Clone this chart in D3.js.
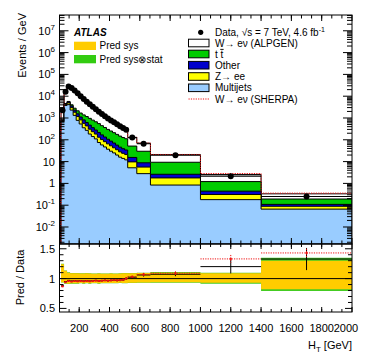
<!DOCTYPE html>
<html>
<head>
<meta charset="utf-8">
<script src="https://cdn.jsdelivr.net/npm/d3@7"></script>
<style>
    body { margin: 0; background: #fff; }
    text { font-family: "Liberation Sans", Arial, Helvetica, sans-serif; fill: #000; }
</style>
</head>
<body>
<script>

// Bin edges in HT [GeV]: 20 GeV bins up to 520, then wider ones
const binEdges = [80, 100, 120, 140, 160, 180, 200, 220, 240, 260, 280, 300, 320, 340, 360,
    380, 400, 420, 440, 460, 480, 500, 520, 580, 670, 1000, 1400, 2000];

// Events / GeV
const dataValues = [2240, 15850, 28180, 23990, 18200, 13490, 10000, 7410, 5620, 4270, 3240, 2510, 1950, 1510,
    1200, 955, 776, 631, 513, 417, 347, 288, 126, 66, 19.5, 2.14, 0.25];
const wenuAlpgen = [1179, 10470, 21595, 18999, 14753, 10812, 7960, 5727, 4257, 3136, 2329, 1765, 1320, 1012,
    797, 622, 500, 403, 321, 259, 213, 176, 77.5, 40.2, 11.6, 1.36, 0.14];
const ttbar = [4, 75, 273, 461, 527, 583, 579, 569, 542, 492, 438, 390, 337, 277,
    233, 194, 166, 141, 120, 102, 88, 78, 36, 21, 6.7, 0.77, 0.083];
const other = [39, 301, 547, 576, 439, 389, 290, 249, 190, 164, 125, 97, 84, 66,
    52, 41, 34, 28, 22, 18, 15, 13, 5.8, 3.2, 0.84, 0.13, 0.02];
const zee = [59, 452, 820, 691, 527, 389, 290, 213, 163, 123, 94, 73, 56, 44,
    35, 28, 23, 18, 15, 12, 10, 9, 4.5, 2.8, 0.94, 0.13, 0.023];
const multijets = [690, 3760, 4100, 2303, 1317, 777, 531, 356, 271, 184, 141, 110, 75, 58,
    47, 37, 30, 25, 20, 16, 14, 12, 5.2, 2.8, 0.84, 0.18, 0.066];

// Ratio panel
const sherpaRatio = [0.87, 0.94, 0.96, 0.95, 0.96, 0.955, 0.96, 0.955, 0.96, 0.955, 0.96, 0.965, 0.96, 0.965,
    0.97, 0.965, 0.97, 0.975, 0.97, 0.975, 0.98, 1.0, 1.03, 1.07, 1.09, 1.33, 1.43];
const sherpaStatError = [0.01, 0.004, 0.003, 0.003, 0.003, 0.004, 0.004, 0.005, 0.005, 0.006, 0.007, 0.008, 0.009, 0.01,
    0.011, 0.012, 0.014, 0.015, 0.017, 0.019, 0.02, 0.022, 0.02, 0.025, 0.03, 0.05, 0.05];
const dataStatError = [0.01, 0.004, 0.003, 0.003, 0.003, 0.004, 0.004, 0.005, 0.005, 0.006, 0.007, 0.008, 0.009, 0.01,
    0.011, 0.012, 0.014, 0.015, 0.017, 0.019, 0.02, 0.022, 0.02, 0.025, 0.03, 0.095, 0.14];
const sysUp = [1.24, 1.13, 1.1, 1.09, 1.09, 1.09, 1.085, 1.085, 1.09, 1.085, 1.08, 1.08, 1.085, 1.08,
    1.08, 1.08, 1.085, 1.08, 1.08, 1.085, 1.09, 1.09, 1.09, 1.095, 1.10, 1.09, 1.30];
const sysDown = [0.94, 0.92, 0.915, 0.92, 0.92, 0.92, 0.925, 0.92, 0.925, 0.92, 0.925, 0.925, 0.92, 0.925,
    0.925, 0.925, 0.925, 0.925, 0.925, 0.93, 0.925, 0.925, 0.93, 0.935, 0.94, 0.93, 0.82];
const totalUp = [1.25, 1.135, 1.105, 1.095, 1.095, 1.095, 1.09, 1.09, 1.095, 1.09, 1.085, 1.085, 1.09, 1.085,
    1.085, 1.085, 1.09, 1.085, 1.085, 1.09, 1.095, 1.095, 1.095, 1.10, 1.11, 1.10, 1.35];
const totalDown = [0.935, 0.915, 0.91, 0.915, 0.915, 0.915, 0.92, 0.915, 0.92, 0.915, 0.92, 0.92, 0.915, 0.92,
    0.92, 0.92, 0.92, 0.92, 0.92, 0.925, 0.92, 0.92, 0.925, 0.93, 0.93, 0.915, 0.79];

const xTicksMajor = [200, 400, 600, 800, 1000, 1200, 1400, 1600, 1800, 2000];
const ratioTicksMajor = [0.5, 1, 1.5];

// Layout
const width = 374, height = 359;
const topPanel = {left: 59.5, right: 352, top: 15, bottom: 244};
const ratioPanel = {left: 59.5, right: 352, top: 244, bottom: 312};

const x = d3.scaleLinear().domain([70, 2000]).range([topPanel.left, topPanel.right]);
const y = d3.scaleLog().domain([1.66e-3, 5.3e7]).range([topPanel.bottom, topPanel.top]);
const yRatio = d3.scaleLinear().domain([0.44, 1.58]).range([ratioPanel.bottom, ratioPanel.top]);

const svg = d3.select("body").append("svg")
    .attr("width", width)
    .attr("height", height);

const defs = svg.append("defs");
defs.append("clipPath").attr("id", "clipTop").append("rect")
    .attr("x", topPanel.left).attr("y", topPanel.top)
    .attr("width", topPanel.right - topPanel.left).attr("height", topPanel.bottom - topPanel.top);
defs.append("clipPath").attr("id", "clipRatio").append("rect")
    .attr("x", ratioPanel.left).attr("y", ratioPanel.top)
    .attr("width", ratioPanel.right - ratioPanel.left).attr("height", ratioPanel.bottom - ratioPanel.top);

// Step helpers
const stepPoints = values => values.flatMap((v, i) => [[binEdges[i], v], [binEdges[i + 1], v]]);
const centres = binEdges.slice(0, -1).map((lo, i) => (lo + binEdges[i + 1]) / 2);

// Cumulative stack, bottom layer first
const layers = [
    {name: "Multijets", values: multijets, colour: "#99ccff"},
    {name: "Zee", values: zee, colour: "#ffff00"},
    {name: "Other", values: other, colour: "#0000cc"},
    {name: "ttbar", values: ttbar, colour: "#00cc00"},
    {name: "Wenu", values: wenuAlpgen, colour: "#ffffff"}
];
let running = dataValues.map(() => 0);
layers.forEach(layer => {
    running = running.map((r, i) => r + layer.values[i]);
    layer.cumulative = running.slice();
});
const stackTotal = running;

const stackArea = d3.area()
    .x(p => x(p[0]))
    .y0(topPanel.bottom)
    .y1(p => y(p[1]));

const topPlot = svg.append("g").attr("clip-path", "url(#clipTop)");

// draw from the top of the stack down so that each layer covers the one above
layers.slice().reverse().forEach(layer => {
    topPlot.append("path")
        .attr("d", stackArea(stepPoints(layer.cumulative)))
        .attr("fill", layer.colour)
        .attr("stroke", "#000")
        .attr("stroke-width", 1);
});

// SHERPA prediction as a dotted red histogram
const sherpaValues = dataValues.map((d, i) => d * sherpaRatio[i]);
const stepLine = d3.line().x(p => x(p[0])).y(p => y(p[1]));
topPlot.append("path")
    .attr("d", stepLine([[binEdges[0], y.domain()[0]]].concat(stepPoints(sherpaValues))))
    .attr("fill", "none")
    .attr("stroke", "#ee1111")
    .attr("stroke-width", 1)
    .attr("stroke-dasharray", "1.2,1.2");

// Data points, joined by thin bin-width bars
topPlot.selectAll("line.dataX")
    .data(dataValues)
    .enter().append("line")
    .attr("x1", (d, i) => x(binEdges[i])).attr("x2", (d, i) => x(binEdges[i + 1]))
    .attr("y1", d => y(d)).attr("y2", d => y(d))
    .attr("stroke", "#000").attr("stroke-width", 1.2);
topPlot.selectAll("circle.data")
    .data(dataValues)
    .enter().append("circle")
    .attr("class", "data")
    .attr("cx", (d, i) => x(centres[i]))
    .attr("cy", d => y(d))
    .attr("r", 3)
    .attr("fill", "#000");

// Ratio panel
const ratioPlot = svg.append("g").attr("clip-path", "url(#clipRatio)");
const bandArea = (lower, upper) => d3.area()
    .x(p => x(p[0]))
    .y0(p => yRatio(p[1]))
    .y1(p => yRatio(p[2]))(lower.flatMap((lo, i) => [[binEdges[i], lo, upper[i]], [binEdges[i + 1], lo, upper[i]]]));

ratioPlot.append("path").attr("d", bandArea(totalDown, totalUp)).attr("fill", "#44cc22");
ratioPlot.append("path").attr("d", bandArea(sysDown, sysUp)).attr("fill", "#ffcc00");

ratioPlot.append("line")
    .attr("x1", ratioPanel.left).attr("x2", ratioPanel.right)
    .attr("y1", yRatio(1)).attr("y2", yRatio(1))
    .attr("stroke", "#000").attr("stroke-width", 1);

const alpgenRatio = stackTotal.map((t, i) => t / dataValues[i]);

// ALPGEN / data: horizontal bin segment + vertical stat error
ratioPlot.selectAll("line.alpgenH")
    .data(alpgenRatio)
    .enter().append("line")
    .attr("x1", (r, i) => x(binEdges[i])).attr("x2", (r, i) => x(binEdges[i + 1]))
    .attr("y1", r => yRatio(r)).attr("y2", r => yRatio(r))
    .attr("stroke", "#000").attr("stroke-width", 1);
ratioPlot.selectAll("line.alpgenV")
    .data(alpgenRatio)
    .enter().append("line")
    .attr("x1", (r, i) => x(centres[i])).attr("x2", (r, i) => x(centres[i]))
    .attr("y1", (r, i) => yRatio(r * (1 + dataStatError[i])))
    .attr("y2", (r, i) => yRatio(r * (1 - dataStatError[i])))
    .attr("stroke", "#000").attr("stroke-width", 1);

// SHERPA / data: dotted red segments and small markers
ratioPlot.selectAll("line.sherpaH")
    .data(sherpaRatio)
    .enter().append("line")
    .attr("x1", (r, i) => x(binEdges[i])).attr("x2", (r, i) => x(binEdges[i + 1]))
    .attr("y1", r => yRatio(r)).attr("y2", r => yRatio(r))
    .attr("stroke", "#ee1111").attr("stroke-width", 1).attr("stroke-dasharray", "1.2,1.2");
ratioPlot.selectAll("line.sherpaV")
    .data(sherpaRatio)
    .enter().append("line")
    .attr("x1", (r, i) => x(centres[i])).attr("x2", (r, i) => x(centres[i]))
    .attr("y1", (r, i) => yRatio(r + sherpaStatError[i] * r))
    .attr("y2", (r, i) => yRatio(r - sherpaStatError[i] * r))
    .attr("stroke", "#ee1111").attr("stroke-width", 1).attr("stroke-dasharray", "1.2,1.2");
ratioPlot.selectAll("rect.sherpa")
    .data(sherpaRatio)
    .enter().append("rect")
    .attr("x", (r, i) => x(centres[i]) - 1).attr("y", r => yRatio(r) - 1)
    .attr("width", 2).attr("height", 2)
    .attr("fill", "#ee1111");

// Frames
[topPanel, ratioPanel].forEach(p => svg.append("rect")
    .attr("x", p.left).attr("y", p.top)
    .attr("width", p.right - p.left).attr("height", p.bottom - p.top)
    .attr("fill", "none").attr("stroke", "#000").attr("stroke-width", 1));

// Ticks
const ticks = svg.append("g").attr("stroke", "#000").attr("stroke-width", 1);

const xMinor = d3.range(0, 2001, 200 / 3).filter(v => v > 70 && v < 2000);
const drawXTicks = (yEdge, dir, major, minor) => {
    ticks.selectAll(null).data(xTicksMajor).enter().append("line")
        .attr("x1", d => x(d)).attr("x2", d => x(d))
        .attr("y1", yEdge).attr("y2", yEdge + dir * major);
    ticks.selectAll(null).data(xMinor).enter().append("line")
        .attr("x1", d => x(d)).attr("x2", d => x(d))
        .attr("y1", yEdge).attr("y2", yEdge + dir * minor);
};
drawXTicks(topPanel.top, 1, 6, 3.5);
drawXTicks(topPanel.bottom, -1, 6, 3.5);
drawXTicks(ratioPanel.top, 1, 5, 3);
drawXTicks(ratioPanel.bottom, -1, 5, 3);

// log y ticks
const decades = d3.range(-2, 8);
const yMinor = d3.range(-3, 8).flatMap(k => d3.range(2, 10).map(m => m * Math.pow(10, k)))
    .filter(v => v > y.domain()[0] && v < y.domain()[1]);
const drawYTicks = (scale, majorValues, minorValues, major, minor) => {
    [[topPanel.left, 1], [topPanel.right, -1]].forEach(([xEdge, dir]) => {
        ticks.selectAll(null).data(majorValues).enter().append("line")
            .attr("x1", xEdge).attr("x2", xEdge + dir * major)
            .attr("y1", d => scale(d)).attr("y2", d => scale(d));
        ticks.selectAll(null).data(minorValues).enter().append("line")
            .attr("x1", xEdge).attr("x2", xEdge + dir * minor)
            .attr("y1", d => scale(d)).attr("y2", d => scale(d));
    });
};
drawYTicks(y, decades.map(k => Math.pow(10, k)), yMinor, 9, 5);
drawYTicks(yRatio, ratioTicksMajor, d3.range(0.5, 1.6, 0.1).filter(v => Math.abs(v * 2 - Math.round(v * 2)) > 0.01), 7, 4);

// Tick labels
const labels = svg.append("g").style("font-size", "11px");

decades.forEach(k => {
    const t = labels.append("text")
        .attr("x", 55).attr("y", y(Math.pow(10, k)) + 4)
        .attr("text-anchor", "end");
    if (k === 0) t.text("1");
    else if (k === 1) t.text("10");
    else {
        t.append("tspan").text("10");
        t.append("tspan").attr("dy", -5).style("font-size", "8px").text(k < 0 ? "-" + (-k) : k);
    }
});

ratioTicksMajor.forEach(v => labels.append("text")
    .attr("x", 55).attr("y", yRatio(v) + 4)
    .attr("text-anchor", "end")
    .text(v));

xTicksMajor.forEach(v => labels.append("text")
    .attr("x", v === 2000 ? x(v) - 6 : x(v)).attr("y", 332)
    .attr("text-anchor", "middle")
    .text(v));

// Axis titles
const xTitle = labels.append("text").attr("x", 352).attr("y", 349).attr("text-anchor", "end");
xTitle.append("tspan").text("H");
xTitle.append("tspan").attr("dy", 3).style("font-size", "8px").text("T");
xTitle.append("tspan").attr("dy", -3).text(" [GeV]");

labels.append("text")
    .attr("transform", "translate(25.5,13) rotate(-90)")
    .attr("text-anchor", "end")
    .text("Events / GeV");
labels.append("text")
    .attr("transform", "translate(24,277.5) rotate(-90)")
    .attr("text-anchor", "middle")
    .text("Pred / Data");

// Left legend
const legend = svg.append("g").style("font-size", "10px");
legend.append("text")
    .attr("x", 74).attr("y", 35.5)
    .style("font-weight", "bold").style("font-style", "italic")
    .text("ATLAS");
[["Pred sys", "#ffcc00", 41.7], ["Pred sys\u2297stat", "#33cc11", 55]].forEach(([label, colour, top]) => {
    legend.append("rect").attr("x", 74).attr("y", top).attr("width", 22).attr("height", 8.3).attr("fill", colour);
    legend.append("text").attr("x", 99.5).attr("y", top + 7.7).text(label);
});

// Right legend
const rightEntries = [
    {label: "W\u2192 e\u03bd (ALPGEN)", colour: "#ffffff", cy: 43},
    {label: "t t", colour: "#00cc00", cy: 54, bar: true},
    {label: "Other", colour: "#0000cc", cy: 65.2},
    {label: "Z\u2192 ee", colour: "#ffff00", cy: 76.5},
    {label: "Multijets", colour: "#99ccff", cy: 87.8}
];
legend.append("circle").attr("cx", 200.7).attr("cy", 32.3).attr("r", 2.6).attr("fill", "#000");
const dataLabel = legend.append("text").attr("x", 215).attr("y", 36);
dataLabel.append("tspan").text("Data, \u221as = 7 TeV, 4.6 fb");
dataLabel.append("tspan").attr("dy", -4).style("font-size", "7px").text("-1");
rightEntries.forEach(e => {
    legend.append("rect")
        .attr("x", 188.5).attr("y", e.cy - 3.8).attr("width", 20.5).attr("height", 7.6)
        .attr("fill", e.colour).attr("stroke", "#000").attr("stroke-width", 1);
    const label = legend.append("text").attr("x", 215).attr("y", e.cy + 3.6).text(e.label);
    if (e.bar) {
        // anti-top bar over the second t
        const node = label.node();
        const start = node.getStartPositionOfChar(2).x;
        const w = node.getSubStringLength(2, 1);
        legend.append("line")
            .attr("x1", start - 0.3).attr("x2", start + w + 0.3)
            .attr("y1", e.cy - 4.6).attr("y2", e.cy - 4.6)
            .attr("stroke", "#000").attr("stroke-width", 0.9);
    }
});
legend.append("line")
    .attr("x1", 188.5).attr("x2", 209).attr("y1", 99).attr("y2", 99)
    .attr("stroke", "#ee1111").attr("stroke-width", 1).attr("stroke-dasharray", "1.2,1.2");
legend.append("text").attr("x", 215).attr("y", 102.6).text("W\u2192 e\u03bd (SHERPA)");

</script>
</body>
</html>
